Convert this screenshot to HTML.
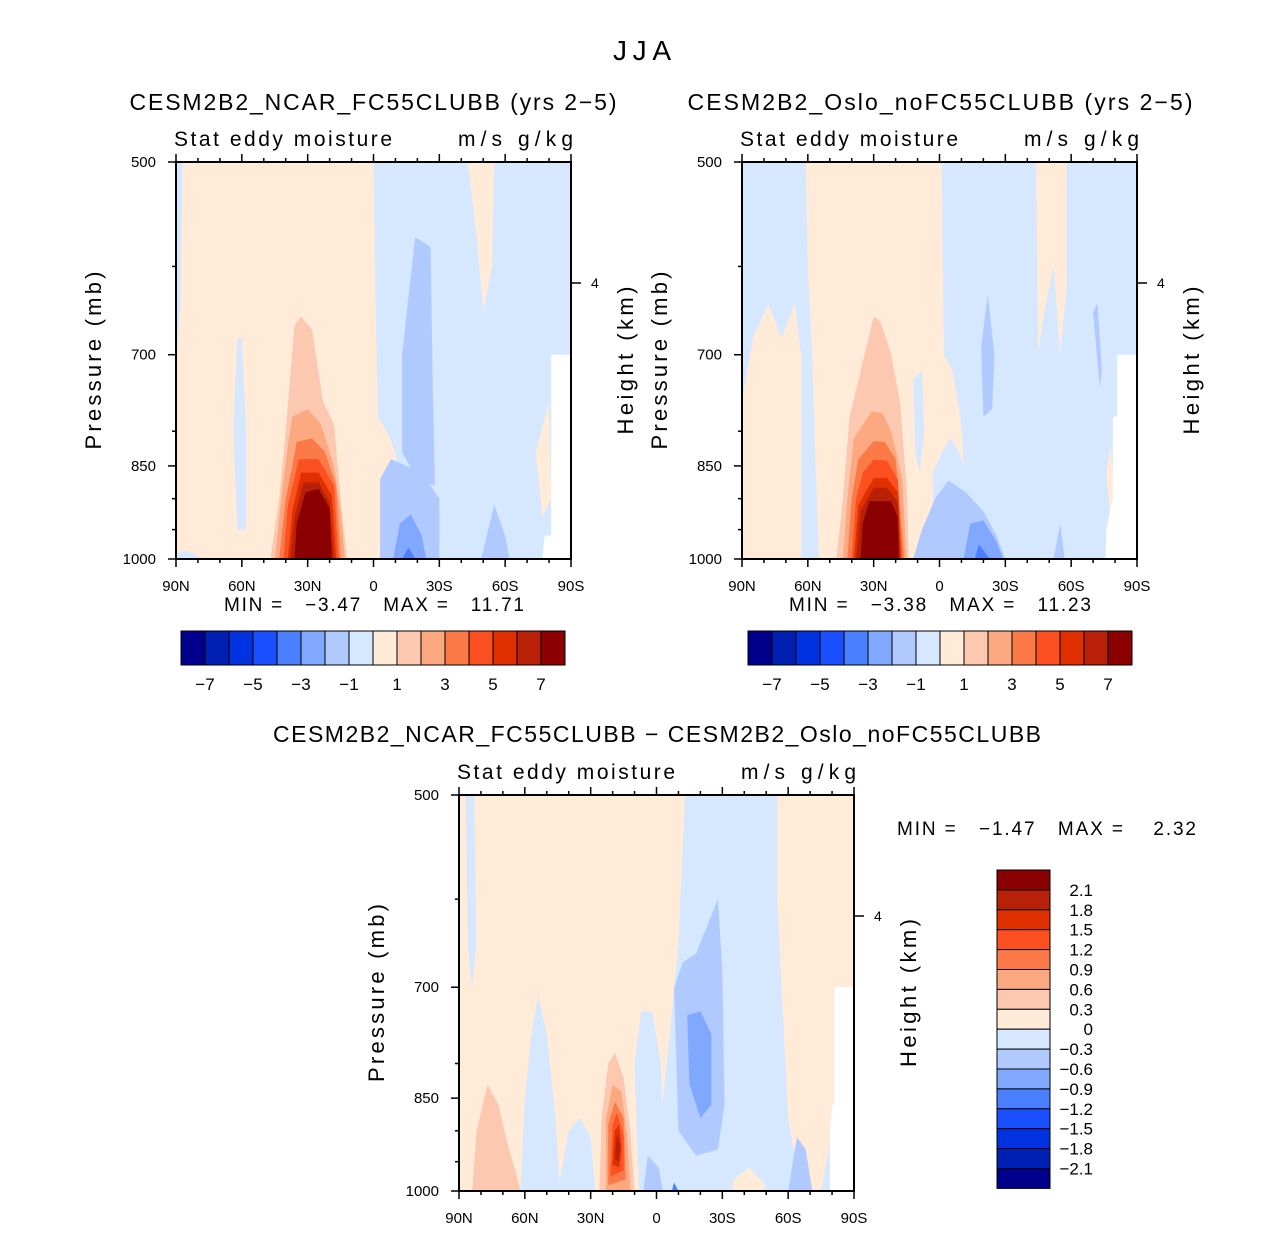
<!DOCTYPE html>
<html><head><meta charset="utf-8"><style>
body{margin:0;background:#fff}
svg text{font-family:"Liberation Sans",sans-serif;fill:#000}
.pre{white-space:pre}
</style></head><body>
<svg id="chart" width="1285" height="1230" viewBox="0 0 1285 1230" xmlns="http://www.w3.org/2000/svg">
<text x="642" y="60" font-size="28" text-anchor="middle" textLength="58">JJA</text>
<g id="p1"></g>
<g id="p2"></g>
<g id="p3"></g>
</svg>
<script>
// ---- data ----
const colorsMain = ["#00008c","#0020b4","#0032e0","#1a4fff","#4a80ff","#80a8ff","#b0caff","#d6e8ff","#ffebd8","#fcc8b0","#fca880","#fc7a48","#fc5020","#e03000","#b82008","#8b0000"];
const tickMain = ["−7","−5","−3","−1","1","3","5","7"];
const tickDiff = ["2.1","1.8","1.5","1.2","0.9","0.6","0.3","0","−0.3","−0.6","−0.9","−1.2","−1.5","−1.8","−2.1"];
const latTicks = [90,60,30,0,-30,-60,-90];
const latLabels = ["90N","60N","30N","0","30S","60S","90S"];
const presTicks = [500,700,850,1000];
// contour polygons: [colorIndex, [[lat,p],...]]
const p1Fields = [
 [8,[[83,500],[0,500],[-1,650],[-2,780],[-6,800],[-10,830],[-12,900],[-16,1000],[78,1000],[85,985],[90,990],[90,720],[88,640],[87,500]]],
 [7,[[62,680],[60,680],[58,800],[58,950],[62,950],[64,800]]],
 [8,[[-43,500],[-55,500],[-54,600],[-50,650],[-47,570]]],
 [8,[[-74,830],[-80,760],[-81,900],[-77,930]]],
 [9,[[36,665],[33,655],[28,670],[23,760],[18,790],[15,900],[12,1000],[47,1000],[43,900],[40,800]]],
 [10,[[37,780],[30,770],[24,790],[18,850],[15,920],[13,1000],[45,1000],[42,900],[39,820]]],
 [11,[[35,815],[28,810],[22,830],[17,880],[15,1000],[43,1000],[40,900],[37,850]]],
 [12,[[34,840],[25,840],[18,880],[16,1000],[41,1000],[39,910]]],
 [13,[[33,860],[25,860],[19,895],[17,1000],[39,1000],[37,920]]],
 [14,[[32,875],[25,875],[20,905],[18,1000],[38,1000],[36,930]]],
 [15,[[31,890],[25,885],[20,915],[19,1000],[36,1000],[35,940]]],
 [6,[[-13,700],[-19,570],[-26,580],[-27,740],[-28,880],[-20,870],[-13,830]]],
 [6,[[-3,1000],[-3,870],[-8,840],[-15,850],[-22,860],[-30,900],[-30,1000]]],
 [6,[[-49,1000],[-55,910],[-60,960],[-62,1000]]],
 [5,[[-9,1000],[-12,940],[-17,925],[-22,960],[-24,1000]]],
 [4,[[-13,1000],[-16,980],[-19,1000]]]
];
const p1Missing = [[-81,700],[-90,700],[-90,1000],[-77,1000],[-78,960],[-81,960]];
const p2Fields = [
 [8,[[90,1000],[90,760],[85,680],[78,640],[72,680],[66,640],[63,700],[63,1000]]],
 [8,[[61,500],[-1,500],[-2,700],[-6,720],[-10,790],[-11,850],[-9,830],[-5,810],[-1,830],[3,860],[3,1000],[55,1000],[57,800],[58,700],[60,600]]],
 [7,[[12,730],[8,720],[7,800],[9,860],[11,830]]],
 [8,[[-44,500],[-58,500],[-58,620],[-55,700],[-52,600],[-47,660],[-45,700]]],
 [8,[[-76,860],[-78,820],[-80,900],[-78,940]]],
 [9,[[30,655],[27,660],[22,700],[18,760],[15,880],[14,1000],[47,1000],[44,900],[41,780]]],
 [10,[[31,773],[26,775],[22,800],[17,870],[15,1000],[44,1000],[42,900],[39,810]]],
 [11,[[30,814],[25,815],[20,840],[16,1000],[42,1000],[40,900],[37,840]]],
 [12,[[30,841],[24,842],[19,870],[17,1000],[40,1000],[38,900],[35,860]]],
 [13,[[30,868],[24,868],[19,890],[17.5,1000],[39,1000],[37,910]]],
 [14,[[30,883],[24,883],[19,905],[18,1000],[38,1000],[36,920]]],
 [15,[[32,904],[22,904],[19,930],[18.5,1000],[36,1000],[35,940]]],
 [6,[[12,1000],[8,950],[2,900],[-4,872],[-12,890],[-20,920],[-26,960],[-30,1000]]],
 [6,[[-20,780],[-19,690],[-22,630],[-25,700],[-24,770]]],
 [6,[[-70,650],[-72,640],[-74,720],[-73,740]]],
 [6,[[-52,1000],[-55,940],[-57,1000]]],
 [5,[[-11,1000],[-14,940],[-20,935],[-26,970],[-29,1000]]],
 [4,[[-16,1000],[-18,975],[-23,1000]]]
];
const p2Missing = [[-81,700],[-90,700],[-90,1000],[-75.6,1000],[-76,950],[-79,900],[-79,780],[-81,780]];
const p3Fields = [
 [8,[[89,500],[-13,500],[-10,650],[-6,760],[-3,850],[0,920],[-2,1000],[90,1000],[90,500]]],
 [7,[[87,500],[83,500],[82,650],[84,700],[86,650]]],
 [7,[[62,1000],[60,850],[57,760],[54,710],[50,760],[46,880],[44,1000]]],
 [7,[[8,1000],[9,900],[10,800],[7,730],[2,730],[-2,800],[-4,1000]]],
 [7,[[45,1000],[40,900],[35,880],[30,910],[28,1000]]],
 [8,[[-55,500],[-90,500],[-90,720],[-85,760],[-80,900],[-75,1000],[-66,1000],[-60,880],[-57,700],[-55,600]]],
 [8,[[-35,980],[-42,960],[-50,990],[-48,1000],[-35,1000]]],
 [9,[[84,1000],[82,900],[77,830],[72,860],[68,920],[64,970],[62,1000]]],
 [9,[[26,1000],[25,880],[22,800],[19,785],[15,820],[12,900],[10,1000]]],
 [10,[[23,1000],[23,880],[20,830],[16,840],[13,920],[12,1000]]],
 [11,[[22,990],[22,890],[19,855],[15,880],[14,980]]],
 [12,[[21,975],[20,890],[18,872],[15,910],[15,965]]],
 [13,[[20,955],[19,900],[17,890],[16,930],[17,960]]],
 [14,[[19,945],[18,905],[16.5,920],[17,950]]],
 [6,[[-8,700],[-12,670],[-18,660],[-28,600],[-30,680],[-31,860],[-28,930],[-18,940],[-10,900]]],
 [6,[[-3,1000],[-1,960],[4,940],[6,1000]]],
 [6,[[-60,1000],[-64,910],[-68,930],[-71,1000]]],
 [5,[[-14,735],[-20,730],[-25,760],[-25,860],[-20,880],[-15,830]]],
 [4,[[-7,1000],[-8,985],[-10,1000]]]
];
const p3Missing = [[-81,700],[-90,700],[-90,1000],[-79,1000],[-79,900],[-80,860],[-81,860]];

// ---- drawing ----
const NS="http://www.w3.org/2000/svg";
function mk(parent,tag,attrs,txt){const e=document.createElementNS(NS,tag);for(const k in attrs)e.setAttribute(k,attrs[k]);if(txt!==undefined)e.textContent=txt;parent.appendChild(e);return e;}
function panel(g,cfg,fields,missing){
 const {x0,y0,w,h}=cfg;
 const xs=lat=>x0+(90-lat)/180*w;
 const ys=p=>y0+Math.log(p/500)/Math.log(2)*h;
 const bg=mk(g,'rect',{x:x0,y:y0,width:w,height:h,fill:colorsMain[7]});
 
 
 const clip=mk(g,'g',{});
 fields.forEach((f,i)=>{
  const pl=mk(clip,'polygon',{points:f[1].map(q=>xs(q[0])+','+ys(q[1])).join(' '),fill:colorsMain[f[0]]});
  
  
 });
 const ms=mk(clip,'polygon',{points:missing.map(q=>xs(q[0])+','+ys(q[1])).join(' '),fill:'#fff'});
 
 
 const fr=mk(g,'rect',{x:x0,y:y0,width:w,height:h,fill:'none',stroke:'#000','stroke-width':2});
 
 
 for(let lat=90;lat>=-90;lat-=10){
  const major=lat%30===0, L=major?8:4, x=xs(lat);
  mk(g,'line',{x1:x,x2:x,y1:y0+h,y2:y0+h+L,stroke:'#000','stroke-width':1.5});
  mk(g,'line',{x1:x,x2:x,y1:y0,y2:y0-L,stroke:'#000','stroke-width':1.5});
 }
 latTicks.forEach((lat,i)=>{
  const t=mk(g,'text',{x:xs(lat),y:y0+h+32,'font-size':15,'text-anchor':'middle'},latLabels[i]);
  
  
 });
 [600,800,900,950].forEach(p=>mk(g,'line',{x1:x0,x2:x0-4,y1:ys(p),y2:ys(p),stroke:'#000','stroke-width':1.5}));
 presTicks.forEach(p=>{
  mk(g,'line',{x1:x0,x2:x0-8,y1:ys(p),y2:ys(p),stroke:'#000','stroke-width':1.5});
  const t=mk(g,'text',{x:x0-20,y:ys(p)+5,'font-size':15,'text-anchor':'end'},p);
  
  
 });
 mk(g,'line',{x1:x0+w,x2:x0+w+10,y1:y0+121,y2:y0+121,stroke:'#000','stroke-width':1.5});
 mk(g,'text',{x:x0+w+20,y:y0+126,'font-size':14},'4');
 const yt=mk(g,'text',{transform:`translate(${x0-75},${y0+h/2}) rotate(-90)`,'font-size':22,'text-anchor':'middle',textLength:178},'Pressure (mb)');
 
 
 const ht=mk(g,'text',{transform:`translate(${x0+w+62},${y0+h/2}) rotate(-90)`,'font-size':22,'text-anchor':'middle',textLength:148},'Height (km)');
 
 
 const s1=mk(g,'text',{x:x0-2,y:y0-16,'font-size':21,textLength:218},'Stat eddy moisture');
 
 
 const s2=mk(g,'text',{x:x0+w+2,y:y0-16,'font-size':21,'text-anchor':'end',textLength:115},'m/s g/kg');
 
 
 const tt=mk(g,'text',{x:cfg.tx,y:cfg.ty,'font-size':23,'text-anchor':'middle',textLength:cfg.tl},cfg.title);
 
 
 const mm=mk(g,'text',{x:cfg.mx,y:cfg.my,'font-size':19,'class':'pre',textLength:cfg.ml},cfg.minmax);
 
 
}
function hbar(g,x0,y0){
 colorsMain.forEach((c,i)=>{
  const r=mk(g,'rect',{x:x0+i*24,y:y0,width:24,height:34,fill:c,stroke:'#000','stroke-width':1});
  
  
 });
 tickMain.forEach((t,i)=>{
  const e=mk(g,'text',{x:x0+24+i*48,y:y0+59,'font-size':17,'text-anchor':'middle'},t);
  
  
 });
}
const g1=document.getElementById('p1'),g2=document.getElementById('p2'),g3=document.getElementById('p3');
panel(g1,{x0:176,y0:162,w:395,h:397,title:'CESM2B2_NCAR_FC55CLUBB (yrs 2−5)',tx:373,ty:110,tl:487,minmax:'MIN =   −3.47   MAX =   11.71',mx:224,my:611,ml:300},p1Fields,p1Missing);
panel(g2,{x0:742,y0:162,w:395,h:397,title:'CESM2B2_Oslo_noFC55CLUBB (yrs 2−5)',tx:940,ty:110,tl:505,minmax:'MIN =   −3.38   MAX =   11.23',mx:789,my:611,ml:302},p2Fields,p2Missing);
panel(g3,{x0:459,y0:795,w:395,h:396,title:'CESM2B2_NCAR_FC55CLUBB − CESM2B2_Oslo_noFC55CLUBB',tx:657,ty:742,tl:768,minmax:'MIN =   −1.47   MAX =    2.32',mx:897,my:835,ml:299},p3Fields,p3Missing);
hbar(g1,181,631);
hbar(g2,748,631);
const vb=document.createElementNS(NS,'g');g3.appendChild(vb);


colorsMain.slice().reverse().forEach((c,i)=>{
 const r=mk(vb,'rect',{x:997,y:870+i*19.9,width:53,height:19.9,fill:c,stroke:'#000','stroke-width':1});
 
 
});
tickDiff.forEach((t,i)=>{
 const e=mk(vb,'text',{x:1093,y:870+(i+1)*19.9+6,'font-size':17,'text-anchor':'end'},t);
 
 
});
</script>
</body></html>
